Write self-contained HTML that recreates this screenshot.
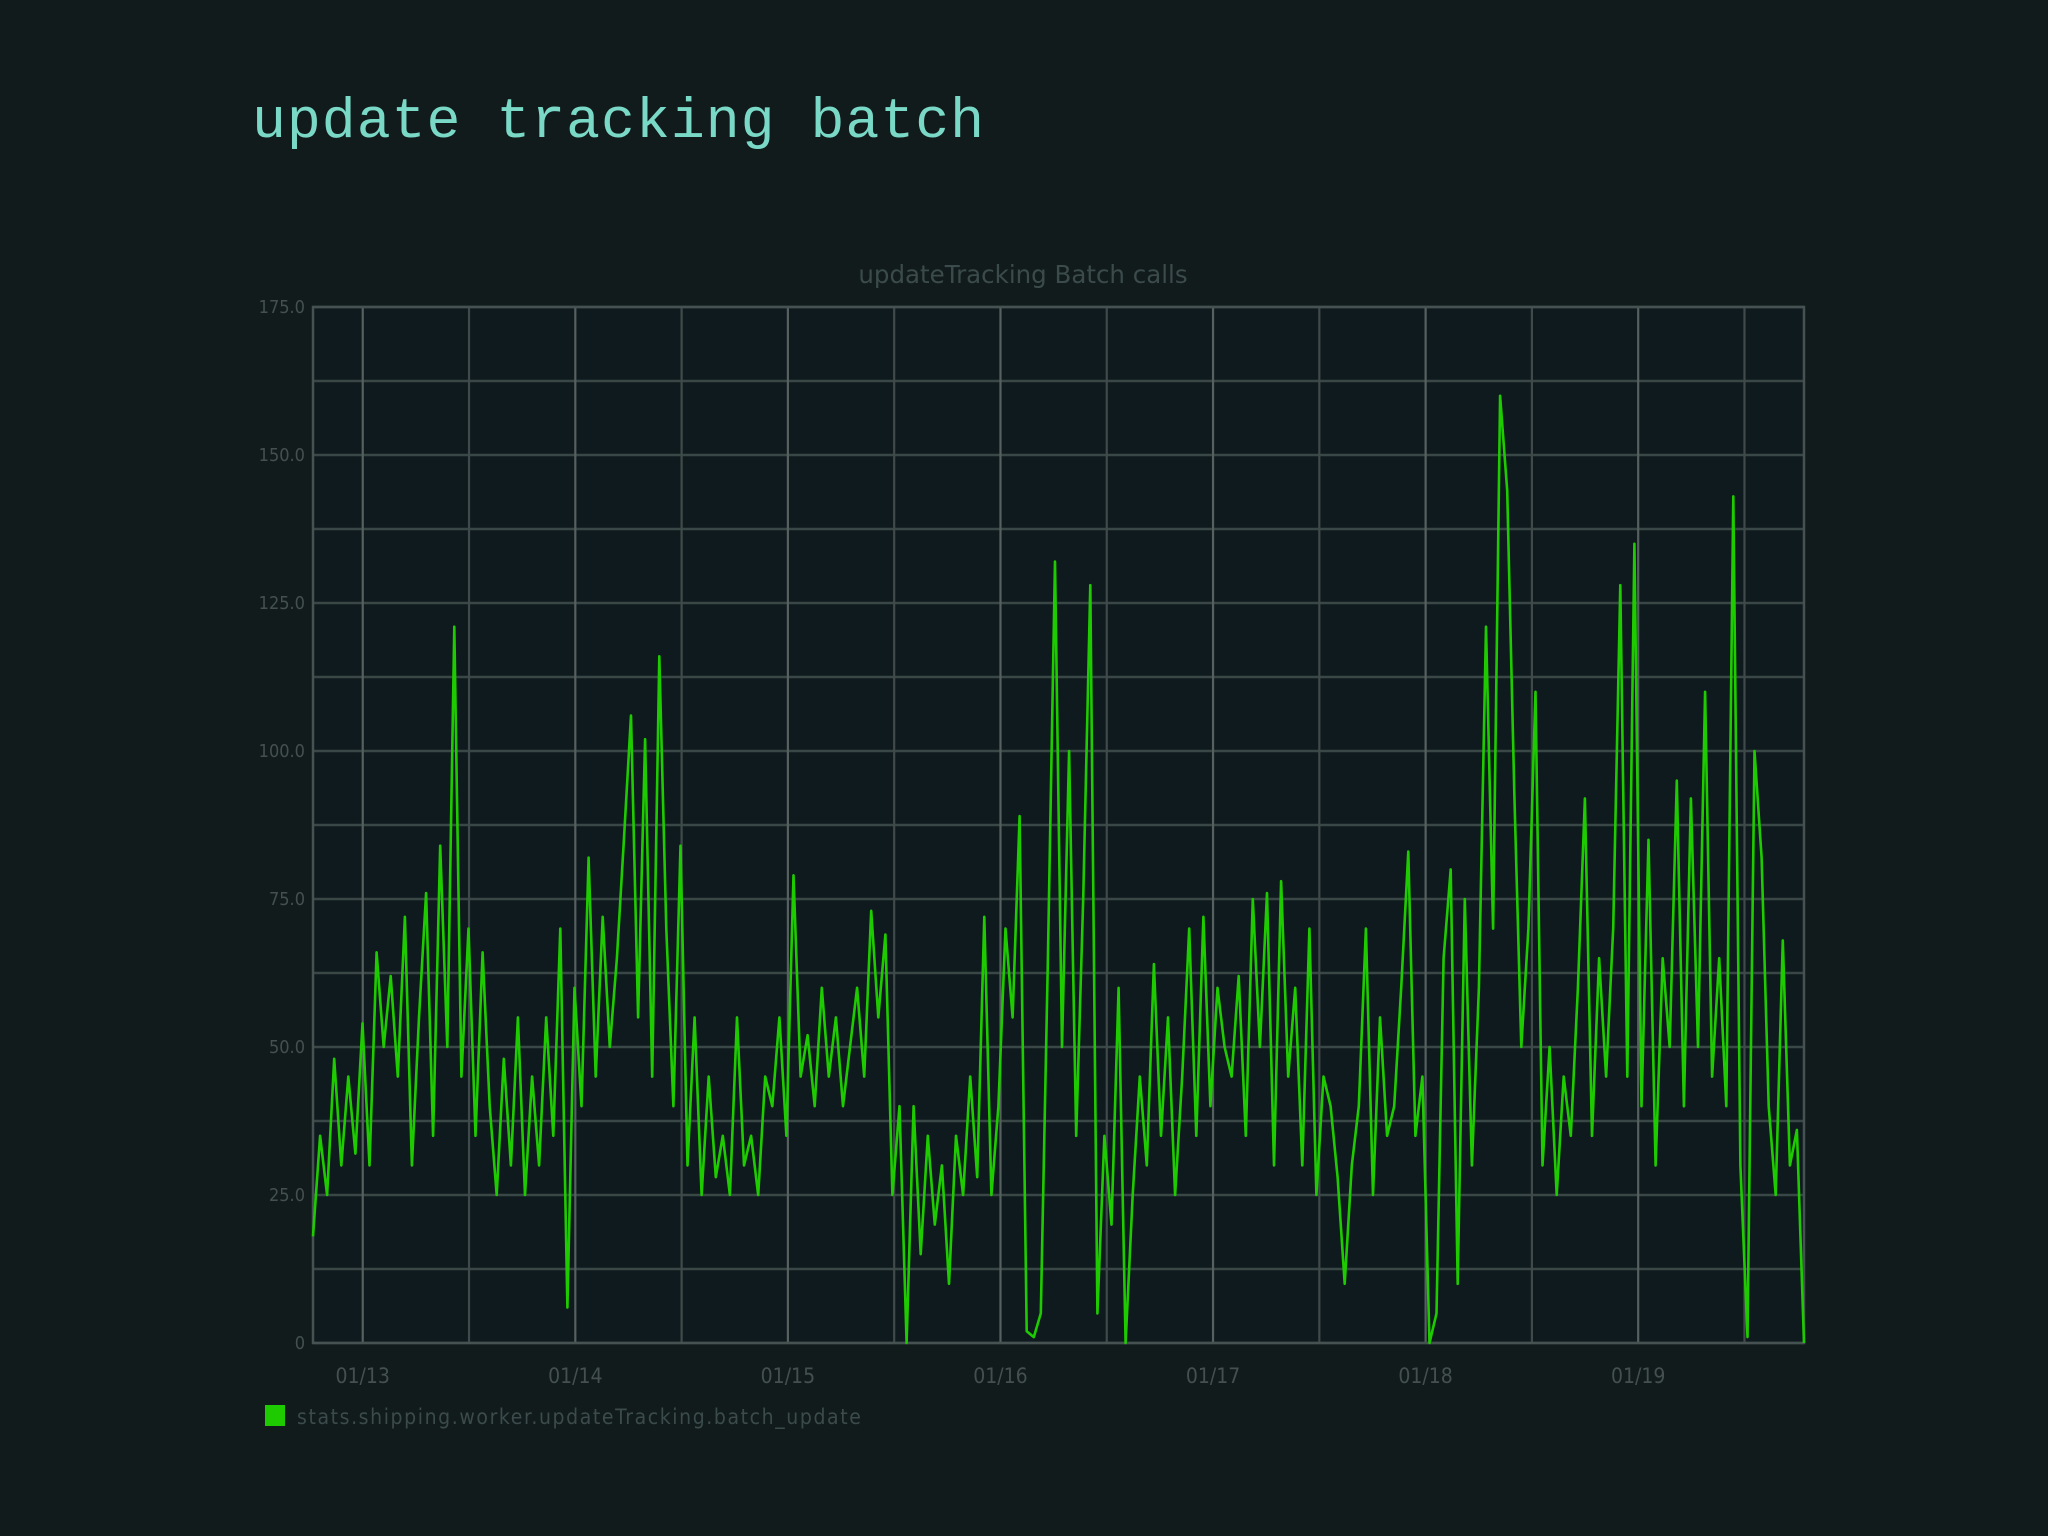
<!DOCTYPE html>
<html><head><meta charset="utf-8"><style>
html,body{margin:0;padding:0;background:#111b1c;width:2048px;height:1536px;overflow:hidden}
#t{position:absolute;left:252px;top:90px;font-family:"Liberation Mono",monospace;font-size:56.5px;color:#7ad9c6;letter-spacing:1px}
svg{position:absolute;left:0;top:0}
</style></head><body>
<div id="t">update tracking batch</div>
<svg id="c" width="2048" height="1536"></svg>
<script>
const values=[18,35,25,48,30, 45,32,54,30,66, 50,62,45,72,30, 55,76,35,84,50, 121,45,70,35,66, 40,25,48,30,55, 25,45,30,55,35, 70,6,60,40,82, 45,72,50,65,85, 106,55,102,45,116, 70,40,84,30,55, 25,45,28,35,25, 55,30,35,25,45, 40,55,35,79,45, 52,40,60,45,55, 40,50,60,45,73, 55,69,25,40,0, 40,15,35,20,30, 10,35,25,45,28, 72,25,40,70,55, 89,2,1,5,65, 132,50,100,35,75, 128,5,35,20,60, 0,25,45,30,64, 35,55,25,45,70, 35,72,40,60,50, 45,62,35,75,50, 76,30,78,45,60, 30,70,25,45,40, 28,10,30,40,70, 25,55,35,40,60, 83,35,45,0,5, 65,80,10,75,30, 60,121,70,160,144, 93,50,70,110,30, 50,25,45,35,60, 92,35,65,45,70, 128,45,135,40,85, 30,65,50,95,40, 92,50,110,45,65, 40,143,30,1,100, 82,40,25,68,30, 36,0];
const yTicks=[0,25,50,75,100,125,150,175];
const yTickLabels=["0","25.0","50.0","75.0","100.0","125.0","150.0","175.0"];
const xLabels=["01/13","01/14","01/15","01/16","01/17","01/18","01/19"];
const dayStart=-0.234, dayEnd=6.78;
const L=313,R=1804,T=307,B=1343;
const NS="http://www.w3.org/2000/svg";
const svg=document.getElementById('c');
const X=d=>L+(d-dayStart)/(dayEnd-dayStart)*(R-L);
const Y=v=>B-v/175*(B-T);
function mk(tag,attrs){const e=document.createElementNS(NS,tag);for(const k in attrs)e.setAttribute(k,attrs[k]);svg.appendChild(e);return e;}
let bg=mk('rect',{x:L,y:T,width:R-L,height:B-T,fill:'#0f1a1e'});


for(let v=0;v<=175;v+=12.5){let g=mk('line',{x1:L,x2:R,y1:Y(v),y2:Y(v),stroke:'#3a4747','stroke-width':2.5});

}
for(let d=0;d<=6.5;d+=0.5){let g=mk('line',{x1:X(d),x2:X(d),y1:T,y2:B,stroke:d%1===0?'#56605f':'#404a4a','stroke-width':2.2});

}
let bx=mk('rect',{x:L,y:T,width:R-L,height:B-T,fill:'none',stroke:'#465252','stroke-width':2.5});


yTicks.forEach((v,i)=>{let t=mk('text',{x:L-8,y:Y(v)+6,'text-anchor':'end','font-family':'DejaVu Sans Condensed, Liberation Sans, sans-serif','font-size':18,fill:'#44504f'});t.textContent=yTickLabels[i];

});
xLabels.forEach((s,i)=>{let t=mk('text',{x:X(i),y:1383,'text-anchor':'middle','font-family':'DejaVu Sans Condensed, Liberation Sans, sans-serif','font-size':21,fill:'#44504f'});t.textContent=s;

});
let ct=mk('text',{x:1023,y:283,'text-anchor':'middle','font-family':'DejaVu Sans, Liberation Sans, sans-serif','font-size':24.5,fill:'#3b4a4a'});ct.textContent='updateTracking Batch calls';


const n=values.length;
let pts=values.map((v,i)=>X(dayStart+i*(dayEnd-dayStart)/(n-1)).toFixed(1)+','+Y(v).toFixed(1)).join(' ');
let pl=mk('polyline',{points:pts,fill:'none',stroke:'#1ecb00','stroke-width':2.6,'stroke-linejoin':'round'});


let ls=mk('rect',{x:265,y:1405,width:20,height:21,fill:'#1ecb00'});


let lt=mk('text',{x:297,y:1424,'font-family':'DejaVu Sans Condensed, Liberation Sans, sans-serif','font-size':21,'letter-spacing':1.6,fill:'#3b4a4a'});lt.textContent='stats.shipping.worker.updateTracking.batch_update';


</script>
</body></html>
